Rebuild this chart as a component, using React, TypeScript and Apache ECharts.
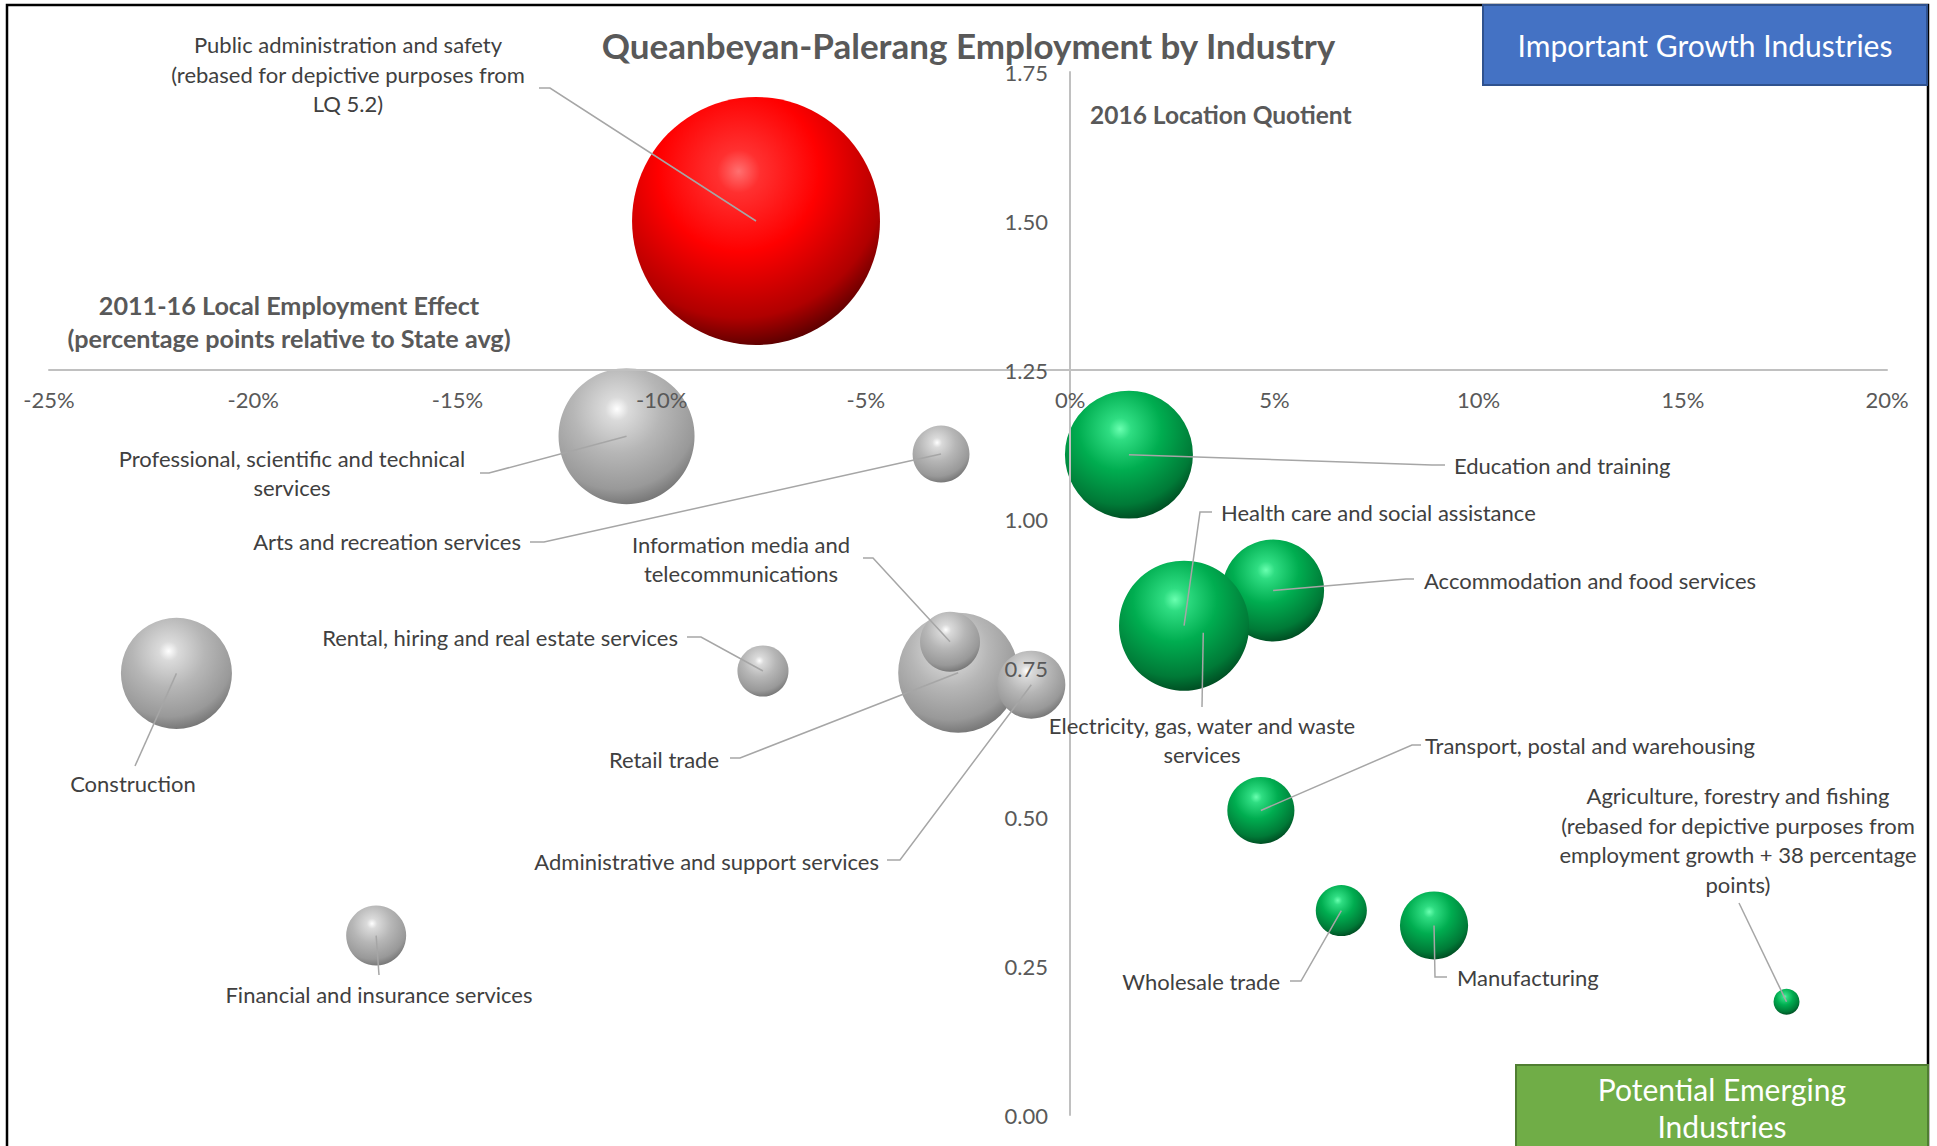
import React, { useEffect, useRef } from "react";
import * as echarts from "echarts";

// ---------- data ----------
const industries = [
  "Agriculture, forestry and fishing",
  "Manufacturing",
  "Electricity, gas, water and waste services",
  "Construction",
  "Wholesale trade",
  "Retail trade",
  "Accommodation and food services",
  "Transport, postal and warehousing",
  "Information media and telecommunications",
  "Financial and insurance services",
  "Rental, hiring and real estate services",
  "Professional, scientific and technical services",
  "Administrative and support services",
  "Public administration and safety",
  "Education and training",
  "Health care and social assistance",
  "Arts and recreation services",
];

// 2011-16 local employment effect (percentage points relative to State avg)
const employmentEffect = [17.54, 8.91, 3.26, -21.88, 6.64, -2.74, 4.97, 4.67, -2.94, -16.99, -7.52, -10.86, -0.95, -7.69, 1.44, 2.79, -3.16];
// 2016 location quotient
const locationQuotient = [0.19, 0.318, 0.809, 0.741, 0.343, 0.742, 0.88, 0.511, 0.794, 0.301, 0.745, 1.139, 0.722, 1.5, 1.108, 0.821, 1.109];
// relative bubble size (employment)
const bubbleSize = [75, 515, 180, 1370, 290, 1600, 1155, 500, 400, 400, 290, 2055, 515, 6830, 1820, 1880, 360];
// colour group
const bubbleGroup = ["green", "green", "green", "grey", "green", "grey", "green", "green", "grey", "grey", "grey", "grey", "grey", "red", "green", "green", "grey"];

const labelText = [
  "Agriculture, forestry and fishing\n(rebased for depictive purposes from\nemployment growth + 38 percentage\npoints)",
  "Manufacturing",
  "Electricity, gas, water and waste\nservices",
  "Construction",
  "Wholesale trade",
  "Retail trade",
  "Accommodation and food services",
  "Transport, postal and warehousing",
  "Information media and\ntelecommunications",
  "Financial and insurance services",
  "Rental, hiring and real estate services",
  "Professional, scientific and technical\nservices",
  "Administrative and support services",
  "Public administration and safety\n(rebased for depictive purposes from\nLQ 5.2)",
  "Education and training",
  "Health care and social assistance",
  "Arts and recreation services",
];

const xTicks = { min: -25, max: 20, interval: 5 };
const yTicks = { min: 0, max: 1.75, interval: 0.25 };

// ---------- layout (pixels) ----------
type LL = { x: number; y: number; align: "left" | "right" | "center"; attach: number[]; stub?: number[] };
const labelLayout: LL[] = [
  { x: 1738, y: 840, align: "center", attach: [1739, 903] },
  { x: 1457, y: 977, align: "left", attach: [1447, 977], stub: [1435, 977] },
  { x: 1202, y: 740, align: "center", attach: [1202, 707] },
  { x: 133, y: 783, align: "center", attach: [135, 766] },
  { x: 1280, y: 981, align: "right", attach: [1290, 981], stub: [1301, 981] },
  { x: 719, y: 759, align: "right", attach: [730, 758], stub: [740, 758] },
  { x: 1424, y: 580, align: "left", attach: [1414, 579], stub: [1406, 579] },
  { x: 1425, y: 745, align: "left", attach: [1421, 745], stub: [1412, 745] },
  { x: 741, y: 559, align: "center", attach: [863, 558], stub: [873, 558] },
  { x: 379, y: 994, align: "center", attach: [379, 975] },
  { x: 678, y: 637, align: "right", attach: [687, 637], stub: [701, 637] },
  { x: 292, y: 473, align: "center", attach: [480, 473], stub: [489, 473] },
  { x: 879, y: 861, align: "right", attach: [887, 860], stub: [900, 860] },
  { x: 348, y: 74, align: "center", attach: [539, 88], stub: [550, 88] },
  { x: 1454, y: 465, align: "left", attach: [1445, 465], stub: [1432, 465] },
  { x: 1221, y: 512, align: "left", attach: [1212, 512], stub: [1200, 512] },
  { x: 521, y: 541, align: "right", attach: [530, 542], stub: [544, 542] },
];

const FONT = "Lato, 'Noto Sans', sans-serif";

const sphere = (group: string) => {
  const stops: Record<string, string[]> = {
    grey: ["#ffffff", "#dadada", "#b6b6b6", "#999999", "#747474"],
    green: ["#6affb0", "#2fdd82", "#00ad50", "#007a37", "#004a21"],
    red: ["#ff7070", "#ff3030", "#ff0000", "#b00000", "#560000"],
  };
  const c = stops[group];
  return {
    type: "radial",
    x: 0.43,
    y: 0.3,
    r: 0.72,
    global: false,
    colorStops: [
      { offset: 0, color: c[0] },
      { offset: 0.12, color: c[1] },
      { offset: 0.45, color: c[2] },
      { offset: 0.82, color: c[3] },
      { offset: 1, color: c[4] },
    ],
  };
};

export default function App() {
  const ref = useRef<HTMLDivElement>(null);
  useEffect(() => {
    if (!ref.current) return;
    const chart = echarts.init(ref.current, undefined, { renderer: "svg" });
    const data = industries.map((name, i) => ({
      name,
      value: [employmentEffect[i], locationQuotient[i], bubbleSize[i]],
      itemStyle: { color: sphere(bubbleGroup[i]), opacity: 1 },
    }));
    const option: any = {
      animation: false,
      backgroundColor: "#ffffff",
      title: {
        text: "Queanbeyan-Palerang Employment by Industry",
        left: "center",
        top: 27,
        padding: 0,
        textStyle: { fontFamily: FONT, fontWeight: "bold", fontSize: 35, color: "#595959" },
      },
      grid: { left: 49, right: 50, top: 72, bottom: 31 },
      xAxis: {
        type: "value",
        position: "top",
        offset: -298,
        z: 3,
        min: xTicks.min,
        max: xTicks.max,
        interval: xTicks.interval,
        axisLine: { show: true, onZero: false, lineStyle: { color: "#c0c0c0", width: 2 } },
        axisTick: { show: false },
        splitLine: { show: false },
        axisLabel: {
          inside: true,
          margin: 18,
          color: "#595959",
          fontFamily: FONT,
          fontSize: 22,
          formatter: (v: number) => `${v}%`,
        },
      },
      yAxis: {
        type: "value",
        position: "left",
        offset: -1021,
        z: 3,
        min: yTicks.min,
        max: yTicks.max,
        interval: yTicks.interval,
        axisLine: { show: true, onZero: false, lineStyle: { color: "#c0c0c0", width: 2 } },
        axisTick: { show: false },
        splitLine: { show: false },
        axisLabel: {
          margin: 22,
          color: "#595959",
          fontFamily: FONT,
          fontSize: 22,
          formatter: (v: number) => v.toFixed(2),
        },
      },
      graphic: [
        {
          type: "rect",
          z: 100,
          shape: { x: 7, y: 5, width: 1921, height: 1150 },
          style: { fill: "none", stroke: "#000000", lineWidth: 2.5 },
          silent: true,
        },
        {
          type: "rect",
          z: 101,
          shape: { x: 1483, y: 5, width: 444, height: 80 },
          style: { fill: "#4472c4", stroke: "#2f528f", lineWidth: 2 },
        },
        {
          type: "text",
          z: 102,
          style: {
            text: "Important Growth Industries",
            x: 1705,
            y: 45,
            align: "center",
            verticalAlign: "middle",
            fill: "#ffffff",
            fontFamily: FONT,
            fontSize: 30,
          },
        },
        {
          type: "rect",
          z: 101,
          shape: { x: 1516, y: 1065, width: 412, height: 95 },
          style: { fill: "#70ad47", stroke: "#507e32", lineWidth: 2 },
        },
        {
          type: "text",
          z: 102,
          style: {
            text: "Potential Emerging\nIndustries",
            x: 1722,
            y: 1107,
            align: "center",
            verticalAlign: "middle",
            lineHeight: 37,
            fill: "#ffffff",
            fontFamily: FONT,
            fontSize: 30,
          },
        },
        {
          type: "text",
          z: 50,
          style: {
            text: "2016 Location Quotient",
            x: 1090,
            y: 114,
            align: "left",
            verticalAlign: "middle",
            fill: "#595959",
            fontFamily: FONT,
            fontWeight: "bold",
            fontSize: 24.5,
          },
        },
        {
          type: "text",
          z: 50,
          style: {
            text: "2011-16 Local Employment Effect\n(percentage points relative to State avg)",
            x: 289,
            y: 321,
            align: "center",
            verticalAlign: "middle",
            lineHeight: 33,
            fill: "#595959",
            fontFamily: FONT,
            fontWeight: "bold",
            fontSize: 25.2,
          },
        },
      ],
      series: [
        {
          type: "scatter",
          name: "Industries",
          data,
          symbol: "circle",
          symbolSize: (v: number[]) => Math.sqrt(v[2]) * 3,
          itemStyle: { opacity: 1 },
          z: 2,
        },
        {
          type: "custom",
          name: "Labels",
          z: 5,
          silent: true,
          data: industries.map((_, i) => [employmentEffect[i], locationQuotient[i]]),
          renderItem: (params: any, api: any) => {
            const i = params.dataIndex;
            const c = api.coord([api.value(0), api.value(1)]);
            const L = labelLayout[i];
            const pts = L.stub ? [L.attach, L.stub, c] : [L.attach, c];
            return {
              type: "group",
              children: [
                {
                  type: "polyline",
                  shape: { points: pts },
                  style: { stroke: "#a6a6a6", lineWidth: 1.5, fill: null },
                },
                {
                  type: "text",
                  style: {
                    text: labelText[i],
                    x: L.x,
                    y: L.y,
                    align: L.align,
                    verticalAlign: "middle",
                    lineHeight: 29.5,
                    fill: "#404040",
                    fontFamily: FONT,
                    fontSize: 22,
                  },
                },
              ],
            };
          },
        },
      ],
    };
    chart.setOption(option);
    return () => chart.dispose();
  }, []);
  return <div ref={ref} style={{ position: "fixed", left: 0, top: 0, width: 1937, height: 1146 }} />;
}
